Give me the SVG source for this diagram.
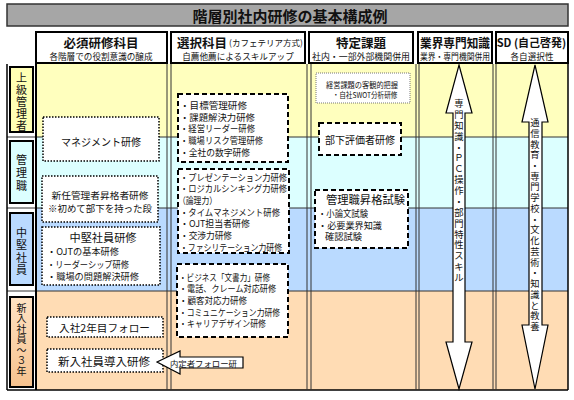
<svg xmlns="http://www.w3.org/2000/svg" width="574" height="400" viewBox="0 0 574 400">
<defs>
<style>
text{font-family:"Noto Sans CJK JP","Noto Sans CJK SC",sans-serif;fill:#111;dominant-baseline:central}
.ttl{font-size:15px;font-weight:700;text-anchor:middle}
.hd{font-size:12.5px;font-weight:700;text-anchor:middle}
.sub{font-size:8.6px;text-anchor:middle}
.lbl{font-size:11px;text-anchor:middle}
.lbs{font-size:10px;text-anchor:middle}
.t10{font-size:10.5px}
.t9{font-size:9.3px}
.t8{font-size:7.6px}
.mid{text-anchor:middle}
.hbox{fill:#fff;stroke:#000;stroke-width:2}
.dot{fill:#fff;stroke:#000;stroke-width:1.5;stroke-dasharray:1.5 1.5}
.dash{fill:#fff;stroke:#000;stroke-width:2;stroke-dasharray:5 3}
.gdot{fill:#fff;stroke:#777;stroke-width:1;stroke-dasharray:1 1}
.arr{fill:#fff;stroke:#000;stroke-width:1.2;stroke-linejoin:miter}
.vl{stroke:#333;stroke-width:1}
</style>
<linearGradient id="peachG" x1="0" y1="0" x2="0" y2="1">
<stop offset="0" stop-color="#ffe3c4"/>
<stop offset="1" stop-color="#f6c28e"/>
</linearGradient>
</defs>
<rect width="574" height="400" fill="#fff"/>
<g id="title">
<rect x="7" y="4" width="561" height="22" fill="#a6a6a6" stroke="#333" stroke-width="1.5"/>
<text class="ttl" x="290" y="15">階層別社内研修の基本構成例</text>
</g>
<g id="bands">
<rect x="36" y="64" width="532" height="73" fill="#ffffbe"/>
<rect x="36" y="137" width="532" height="71" fill="#dcffff"/>
<rect x="36" y="208" width="532" height="83" fill="#badaff"/>
<rect x="36" y="291" width="532" height="99" fill="#ffdcb4"/>
</g>
<g id="grid">
<line class="vl" x1="7" y1="137" x2="568" y2="137"/>
<line class="vl" x1="7" y1="208" x2="568" y2="208"/>
<line class="vl" x1="7" y1="291" x2="568" y2="291"/>
<line x1="7" y1="390" x2="568" y2="390" stroke="#000" stroke-width="1.5"/>
<line x1="7" y1="64" x2="7" y2="390" stroke="#000" stroke-width="1.5"/>
<line x1="36" y1="64" x2="36" y2="390" stroke="#000" stroke-width="2"/>
<line class="vl" x1="167" y1="64" x2="167" y2="390"/>
<line class="vl" x1="171" y1="64" x2="171" y2="390"/>
<line class="vl" x1="307" y1="64" x2="307" y2="390"/>
<line class="vl" x1="311" y1="64" x2="311" y2="390"/>
<line class="vl" x1="416" y1="64" x2="416" y2="390"/>
<line class="vl" x1="419" y1="64" x2="419" y2="390"/>
<line class="vl" x1="493" y1="64" x2="493" y2="390"/>
<line class="vl" x1="496" y1="64" x2="496" y2="390"/>
<line x1="568" y1="64" x2="568" y2="390" stroke="#000" stroke-width="1.5"/>
</g>
<g id="header-hissu">
<rect class="hbox" x="36" y="32" width="131" height="31"/>
<text class="hd" x="101" y="42">必須研修科目</text>
<text class="sub" x="101" y="56">各階層での役割意識の醸成</text>
</g>
<g id="header-sentaku">
<rect class="hbox" x="171" y="32" width="134" height="31"/>
<text x="177" y="42"><tspan style="font-size:12.5px;font-weight:700">選択科目</tspan><tspan style="font-size:8.5px" dx="2">(カフェテリア方式)</tspan></text>
<text class="sub" x="238" y="56">自薦他薦によるスキルアップ</text>
</g>
<g id="header-tokutei">
<rect class="hbox" x="309" y="32" width="104" height="31"/>
<text class="hd" x="361" y="42">特定課題</text>
<text class="sub" x="361" y="56" textLength="98" lengthAdjust="spacingAndGlyphs">社内・一部外部機関併用</text>
</g>
<g id="header-gyokai">
<rect class="hbox" x="418" y="32" width="74" height="31"/>
<text class="hd" x="455" y="42" textLength="70" lengthAdjust="spacingAndGlyphs">業界専門知識</text>
<text class="sub" x="455" y="56" textLength="70" lengthAdjust="spacingAndGlyphs">業界・専門機関併用</text>
</g>
<g id="header-sd">
<rect class="hbox" x="496" y="32" width="72" height="31"/>
<text x="531.5" y="42" style="font-size:11px;font-weight:700;text-anchor:middle">SD (自己啓発)</text>
<text class="sub" x="532" y="56">各自選択性</text>
</g>
<g id="label-joukyu">
<rect x="10" y="67" width="23" height="65" fill="#ffffb4" stroke="#000" stroke-width="2"/>
<text class="lbl" x="21.5" y="77">上</text><text class="lbl" x="21.5" y="89">級</text><text class="lbl" x="21.5" y="101">管</text><text class="lbl" x="21.5" y="113">理</text><text class="lbl" x="21.5" y="124.5">者</text>
</g>
<g id="label-kanrishoku">
<rect x="10" y="141" width="23" height="62" fill="#dcffff" stroke="#000" stroke-width="2"/>
<text class="lbl" x="21.5" y="159">管</text><text class="lbl" x="21.5" y="172">理</text><text class="lbl" x="21.5" y="185">職</text>
</g>
<g id="label-chuken">
<rect x="10" y="213" width="23" height="72" fill="#badaff" stroke="#000" stroke-width="2"/>
<text class="lbl" x="21.5" y="232">中</text><text class="lbl" x="21.5" y="244">堅</text><text class="lbl" x="21.5" y="256.5">社</text><text class="lbl" x="21.5" y="269">員</text>
</g>
<g id="label-shinnyu">
<rect x="10" y="297" width="23" height="90" fill="url(#peachG)" stroke="#000" stroke-width="2"/>
<text class="lbs" x="21.5" y="307">新</text><text class="lbs" x="21.5" y="317.5">入</text><text class="lbs" x="21.5" y="328">社</text><text class="lbs" x="21.5" y="338.5">員</text><text class="lbs" x="21.5" y="349">～</text><text class="lbs" x="21.5" y="359.5">３</text><text class="lbs" x="21.5" y="370">年</text>
</g>
<g id="management">
<rect class="dot" x="43" y="117" width="116" height="44"/>
<text class="t10 mid" x="101" y="141" textLength="80" lengthAdjust="spacingAndGlyphs">マネジメント研修</text>
</g>
<g id="shinnin">
<rect class="dot" x="42" y="176" width="116" height="46"/>
<text class="t9 mid" x="100" y="195" textLength="97" lengthAdjust="spacingAndGlyphs">新任管理者昇格者研修</text>
<text class="t9 mid" x="100" y="208" textLength="104" lengthAdjust="spacingAndGlyphs">※初めて部下を持った段</text>
</g>
<g id="chuken-kenshu">
<rect class="dot" x="42" y="227" width="118" height="58"/>
<text class="mid" x="103" y="237" style="font-size:11.5px" textLength="67" lengthAdjust="spacingAndGlyphs">中堅社員研修</text>
<text class="t9" x="47" y="251" textLength="72" lengthAdjust="spacingAndGlyphs">・OJTの基本研修</text>
<text class="t9" x="47" y="264" textLength="82" lengthAdjust="spacingAndGlyphs">・リーダーシップ研修</text>
<text class="t9" x="47" y="276" textLength="92" lengthAdjust="spacingAndGlyphs">・職場の問題解決研修</text>
</g>
<g id="nyusha2">
<rect class="dot" x="47" y="317" width="116" height="20"/>
<text class="t10" x="59" y="327" textLength="91" lengthAdjust="spacingAndGlyphs">入社2年目フォロー</text>
</g>
<g id="shinnyu-kenshu">
<rect class="dot" x="47" y="349" width="116" height="23"/>
<text x="58" y="361" style="font-size:11.5px" textLength="92" lengthAdjust="spacingAndGlyphs">新入社員導入研修</text>
</g>
<g id="naitei">
<polygon class="arr" points="157,362 180,351 180,357 243,357 243,368 180,368 180,374"/>
<text x="170" y="362.5" style="font-size:8.5px" textLength="67" lengthAdjust="spacingAndGlyphs">内定者フォロー研</text>
</g>
<g id="sentaku-a">
<rect class="dash" x="178" y="94" width="110" height="68"/>
<text class="t9" x="180" y="105" textLength="67" lengthAdjust="spacingAndGlyphs">・目標管理研修</text>
<text class="t9" x="180" y="116.7" textLength="75" lengthAdjust="spacingAndGlyphs">・課題解決力研修</text>
<text class="t9" x="180" y="128.3" textLength="75" lengthAdjust="spacingAndGlyphs">・経営リーダー研修</text>
<text class="t9" x="180" y="140" textLength="83" lengthAdjust="spacingAndGlyphs">・職場リスク管理研修</text>
<text class="t9" x="180" y="151.7" textLength="70" lengthAdjust="spacingAndGlyphs">・全社の数字研修</text>
</g>
<g id="sentaku-b">
<rect class="dash" x="178" y="169" width="111" height="84"/>
<text class="t9" x="180" y="176.7" textLength="107" lengthAdjust="spacingAndGlyphs">・プレゼンテーション力研修</text>
<text class="t9" x="180" y="188.3" textLength="107" lengthAdjust="spacingAndGlyphs">・ロジカルシンキング力研修</text>
<text class="t9" x="178" y="199.5" textLength="39" lengthAdjust="spacingAndGlyphs">（論理力）</text>
<text class="t9" x="180" y="211.7" textLength="100" lengthAdjust="spacingAndGlyphs">・タイムマネジメント研修</text>
<text class="t9" x="180" y="223.3" textLength="70" lengthAdjust="spacingAndGlyphs">・OJT担当者研修</text>
<text class="t9" x="180" y="235" textLength="52" lengthAdjust="spacingAndGlyphs">・交渉力研修</text>
<text class="t9" x="180" y="246.7" textLength="102" lengthAdjust="spacingAndGlyphs">・ファシリテーション力研修</text>
</g>
<g id="sentaku-c">
<rect class="dash" x="177" y="264" width="111" height="73"/>
<text class="t9" x="179" y="277" textLength="91" lengthAdjust="spacingAndGlyphs">・ビジネス「文書力」研修</text>
<text class="t9" x="179" y="288.3" textLength="97" lengthAdjust="spacingAndGlyphs">・電話、クレーム対応研修</text>
<text class="t9" x="179" y="300" textLength="68" lengthAdjust="spacingAndGlyphs">・顧客対応力研修</text>
<text class="t9" x="179" y="312" textLength="101" lengthAdjust="spacingAndGlyphs">・コミュニケーション力研修</text>
<text class="t9" x="179" y="323" textLength="87" lengthAdjust="spacingAndGlyphs">・キャリアデザイン研修</text>
</g>
<g id="swot">
<rect class="gdot" x="316" y="73" width="94" height="30"/>
<text class="t8 mid" x="362" y="84" textLength="72" lengthAdjust="spacingAndGlyphs">経営課題の客観的把握</text>
<text class="t8 mid" x="365" y="94.5" textLength="65" lengthAdjust="spacingAndGlyphs">・自社SWOT分析研修</text>
</g>
<g id="buka-hyoka">
<rect class="dash" x="319" y="123" width="82" height="32"/>
<text class="t10 mid" x="360" y="139" textLength="70" lengthAdjust="spacingAndGlyphs">部下評価者研修</text>
</g>
<g id="shokaku-shiken">
<rect class="dash" x="315" y="190" width="93" height="58"/>
<text class="mid" x="365.5" y="199" style="font-size:11px" textLength="79" lengthAdjust="spacingAndGlyphs">管理職昇格試験</text>
<text class="t9" x="318" y="213" textLength="50" lengthAdjust="spacingAndGlyphs">・小論文試験</text>
<text class="t9" x="318" y="225" textLength="64" lengthAdjust="spacingAndGlyphs">・必要業界知識</text>
<text class="t9" x="325" y="236" textLength="37" lengthAdjust="spacingAndGlyphs">確認試験</text>
</g>
<g id="arrow-gyokai">
<polygon class="arr" points="459,65 472,113 465,113 465,342 472,342 459,389 446,342 453,342 453,113 446,113"/>
<text class="mid t9" x="459" y="103">専</text><text class="mid t9" x="459" y="114">門</text><text class="mid t9" x="459" y="125">知</text><text class="mid t9" x="459" y="136">識</text><text class="mid t9" x="459" y="146.5">・</text><text class="mid t9" x="459" y="157.4">Ｐ</text><text class="mid t9" x="459" y="168.3">Ｃ</text><text class="mid t9" x="459" y="179.1">操</text><text class="mid t9" x="459" y="190">作</text><text class="mid t9" x="459" y="200.9">・</text><text class="mid t9" x="459" y="211.8">部</text><text class="mid t9" x="459" y="222.6">門</text><text class="mid t9" x="459" y="233.5">特</text><text class="mid t9" x="459" y="244.4">性</text><text class="mid t9" x="459" y="255.3">ス</text><text class="mid t9" x="459" y="266.1">キ</text><text class="mid t9" x="459" y="277">ル</text>
</g>
<g id="arrow-sd">
<polygon class="arr" points="535,65 548,122 542,122 542,325 548,325 535,389 522,325 529,325 529,122 522,122"/>
<text class="mid t9" x="535" y="122">通</text><text class="mid t9" x="535" y="132.7">信</text><text class="mid t9" x="535" y="143.5">教</text><text class="mid t9" x="535" y="154.2">育</text><text class="mid t9" x="535" y="165">・</text><text class="mid t9" x="535" y="175.7">専</text><text class="mid t9" x="535" y="186.4">門</text><text class="mid t9" x="535" y="197.2">学</text><text class="mid t9" x="535" y="207.9">校</text><text class="mid t9" x="535" y="218.7">・</text><text class="mid t9" x="535" y="229.4">文</text><text class="mid t9" x="535" y="240.1">化</text><text class="mid t9" x="535" y="250.9">芸</text><text class="mid t9" x="535" y="261.6">術</text><text class="mid t9" x="535" y="272.4">・</text><text class="mid t9" x="535" y="283.1">知</text><text class="mid t9" x="535" y="293.8">識</text><text class="mid t9" x="535" y="304.6">と</text><text class="mid t9" x="535" y="315.3">教</text><text class="mid t9" x="535" y="326">養</text>
</g>
</svg>
